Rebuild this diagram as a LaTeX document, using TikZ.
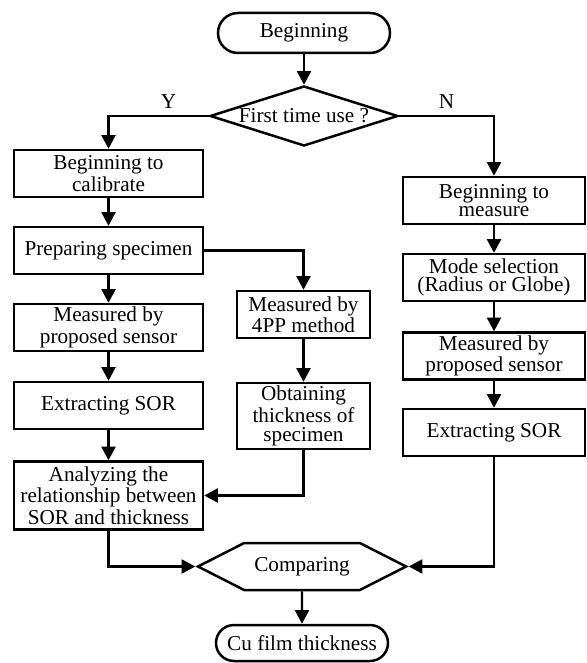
\documentclass[tikz,border=0pt]{standalone}
\usepackage{fontspec}
\setmainfont{Liberation Serif}
\usetikzlibrary{arrows.meta,positioning,shapes.geometric,shapes.symbols}

\begin{document}
\begin{tikzpicture}[node distance=38.5pt,>={Triangle[length=6.8pt,width=7pt]},line width=1.1pt,
		font=\fontsize{10.6pt}{9.4pt}\selectfont]
		\tikzstyle{terminal}=[rectangle, draw, line width=1.25pt, minimum width=86pt, minimum height=20pt, rounded corners=10pt, inner sep=1pt]
		\tikzstyle{decision}=[diamond, draw, line width=1.25pt, minimum width=94pt, minimum height=30pt, inner sep=0pt]
		\tikzstyle{process}=[rectangle, draw, line width=1.25pt, minimum height=23.5pt, inner xsep=1pt, inner ysep=1pt, align=center]
		\tikzstyle{box left}=[process, minimum width=94.5pt]
		\tikzstyle{box mid}=[process, minimum width=66.5pt]
		\tikzstyle{box right}=[process, minimum width=91pt]
		\tikzstyle{compare}=[signal, signal to=west and east, signal pointer angle=54, draw, line width=1.25pt, minimum width=104pt, minimum height=23.5pt, inner sep=1pt]

		\useasboundingbox (0,0) rectangle (293.5pt,-331.5pt);

		\node [terminal] (begin) at (152pt,-16.5pt) {Beginning};
		\node [decision, label=center:{First time use ?}] (decide) [below of=begin, node distance=41.5pt] {};

		% calibration branch
		\node [box left] (calib) at (54.25pt,-86.75pt) {Beginning to\\calibrate};
		\node [box left] (prep) [below of=calib] {Preparing specimen};
		\node [box left] (sensorL) [below of=prep] {Measured by\\proposed sensor};
		\node [box left] (sorL) [below of=sensorL, node distance=39pt] {Extracting SOR};
		\node [box left, minimum height=34pt] (analyze) [below of=sorL, node distance=45pt] {Analyzing the\\relationship between\\SOR and thickness};
		\node [box mid] (fourpp) at (151.75pt,-157.25pt) {Measured by\\4PP method};
		\node [box mid, minimum height=33pt] (obtain) [below of=fourpp, node distance=50.75pt] {Obtaining\\thickness of\\specimen};

		% measuring branch
		\node [box right] (measure) at (247pt,-100.25pt) {Beginning to\\measure};
		\node [box right] (mode) [below of=measure] {Mode selection\\(Radius or Globe)};
		\node [box right] (sensorR) [below of=mode, node distance=39.25pt] {Measured by\\proposed sensor};
		\node [box right] (sorR) [below of=sensorR, node distance=38.25pt] {Extracting SOR};

		\node [compare] (cmp) at (151pt,-283.25pt) {Comparing};
		\node [terminal, minimum height=18pt, rounded corners=9pt] (result) [below of=cmp, node distance=38.25pt] {Cu film thickness};

		\draw [->] (begin) -- (decide);
		\draw [->] (decide.west) -| node [above, pos=0.2] {Y} (calib.north);
		\draw [->] (decide.east) -| node [above, pos=0.25] {N} (measure.north);
		\draw [->] (calib) -- (prep);
		\draw [->] (prep) -- (sensorL);
		\draw [->] (sensorL) -- (sorL);
		\draw [->] (sorL) -- (analyze);
		\draw [->] (prep.east) -| (fourpp.north);
		\draw [->] (fourpp) -- (obtain);
		\draw [->] (obtain.south) |- (analyze.east);
		\draw [->] (measure) -- (mode);
		\draw [->] (mode) -- (sensorR);
		\draw [->] (sensorR) -- (sorR);
		\draw [->] (analyze.south) |- (cmp.west);
		\draw [->] (sorR.south) |- (cmp.east);
		\draw [->] (cmp) -- (result);
	\end{tikzpicture}
\end{document}
